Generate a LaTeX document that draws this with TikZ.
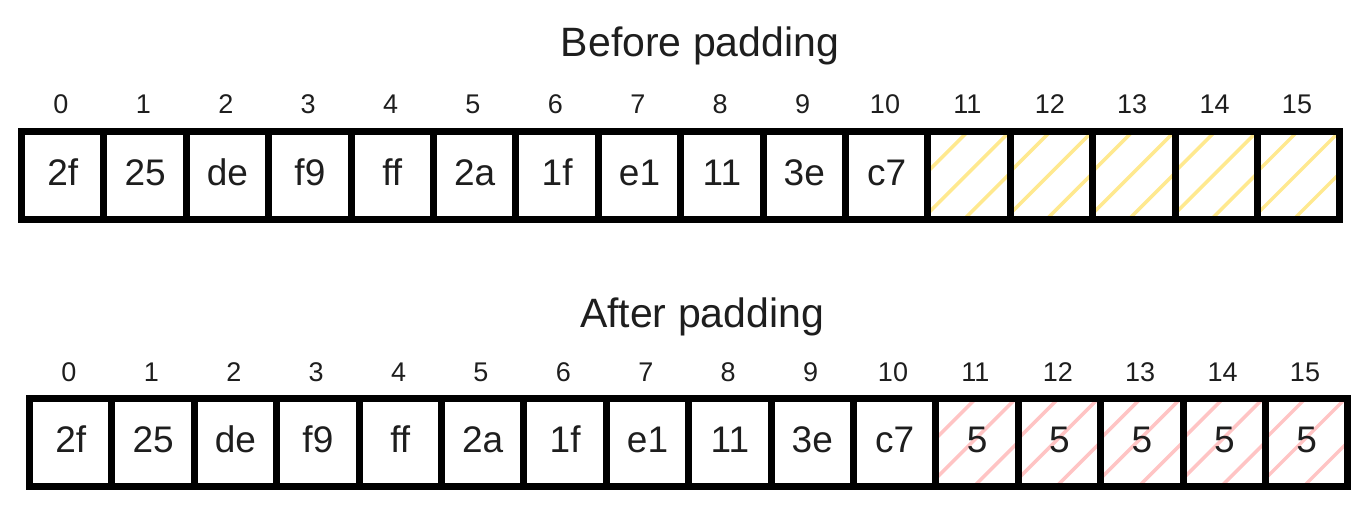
\documentclass[tikz,border=0pt]{standalone}
\usepackage{fontspec}
\setmainfont{Liberation Sans}
\usetikzlibrary{backgrounds}
\definecolor{ink}{HTML}{1E1E1E}
\definecolor{hatchyellow}{HTML}{FFE98F}
\definecolor{hatchred}{HTML}{FFC4C4}
\tikzset{
  cell/.style={draw=black, line width=7pt, minimum width=82.4pt, minimum height=88pt,
    inner sep=0pt, outer sep=0pt, text=ink, font=\fontsize{37}{40}\selectfont,
    text height=26.5pt, text depth=6pt},
  idx/.style={text=ink, font=\fontsize{27}{30}\selectfont, inner sep=0pt,
    text height=19.3pt, text depth=0pt},
  title/.style={text=ink, font=\fontsize{41}{46}\selectfont, inner sep=0pt, anchor=base},
  hatch/.style={line width=3.5pt}
}
\begin{document}
\begin{tikzpicture}[x=1pt,y=-1pt]
\useasboundingbox (0,0) rectangle (1368,506);
\node[title] (t1) at (700,56) {Before padding};
\node[title] (t2) at (702,327) {After padding};
% top row
\foreach \v [count=\i from 0] in {2f,25,de,f9,ff,2a,1f,e1,11,3e,c7} {
  \node[cell] (a\i) at ({62.7+82.4*\i},175.5) {\v};
}
\foreach \i in {11,...,15} {
  \node[cell] (a\i) at ({62.7+82.4*\i},175.5) {};
}
\foreach \i in {0,...,15} {
  \node[idx] (ia\i) at ({61+82.4*\i},104) {\i};
}
% bottom row
\foreach \v [count=\i from 0] in {2f,25,de,f9,ff,2a,1f,e1,11,3e,c7,5,5,5,5,5} {
  \node[cell] (b\i) at ({70.7+82.4*\i},442.5) {\v};
}
\foreach \i in {0,...,15} {
  \node[idx] (ib\i) at ({69+82.4*\i},372) {\i};
}
\begin{scope}[on background layer]
\foreach \i in {11,...,15} {
  \begin{scope}
    \clip (a\i.north west) rectangle (a\i.south east);
    \begin{scope}[shift={(a\i.north west)}]
      \foreach \d in {40,82,124} {
        \draw[hatch, hatchyellow] (\d+10,-10) -- (-10,\d+10);
      }
    \end{scope}
  \end{scope}
  \begin{scope}
    \clip (b\i.north west) rectangle (b\i.south east);
    \begin{scope}[shift={(b\i.north west)}]
      \foreach \d in {40,80,126} {
        \draw[hatch, hatchred] (\d+10,-10) -- (-10,\d+10);
      }
    \end{scope}
  \end{scope}
}
\end{scope}
\end{tikzpicture}
\end{document}
